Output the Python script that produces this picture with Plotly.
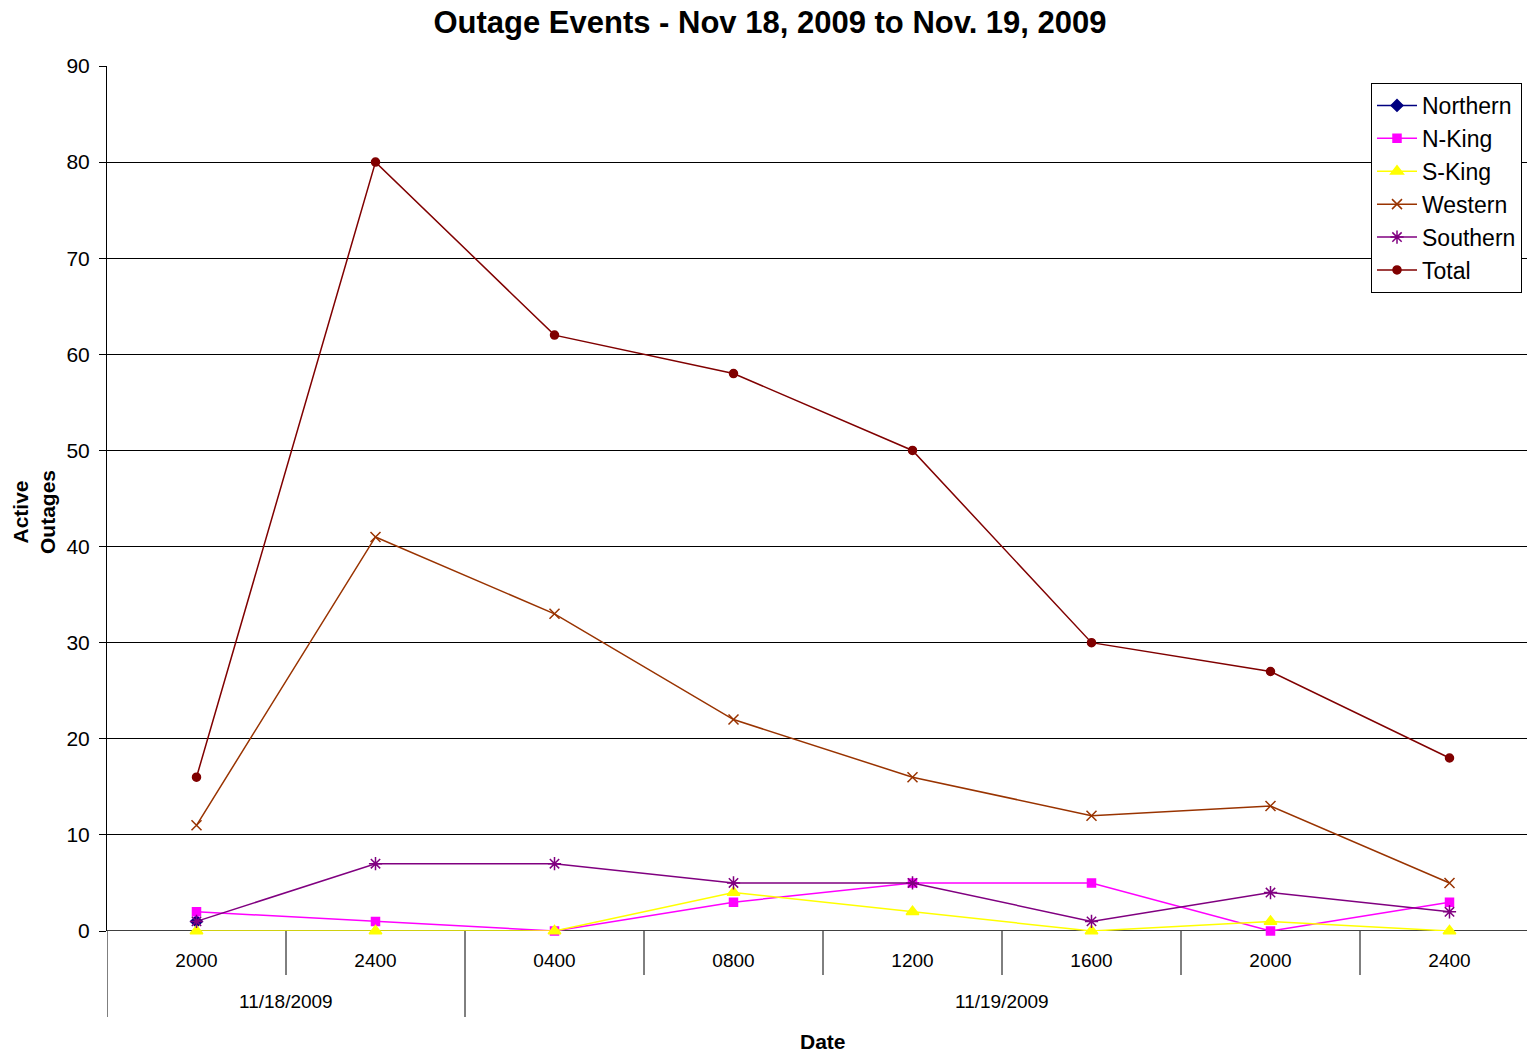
import plotly.graph_objects as go

times = ["2000", "2400", "0400", "0800", "1200", "1600", "2000", "2400"]
dates = ["11/18/2009", "11/19/2009"]
date_spans = [(0, 1), (2, 7)]

northern = [1, None, None, None, None, None, None, None]
n_king = [2, 1, 0, 3, 5, 5, 0, 3]
s_king = [0, 0, 0, 4, 2, 0, 1, 0]
western = [11, 41, 33, 22, 16, 12, 13, 5]
southern = [1, 7, 7, 5, 5, 1, 4, 2]
total = [16, 80, 62, 58, 50, 30, 27, 18]

series = [
    ("Northern", northern, "#000080", "diamond", 9),
    ("N-King", n_king, "#FF00FF", "square", 8),
    ("S-King", s_king, "#FFFF00", "triangle-up", 11),
    ("Western", western, "#993300", "x-thin-open", 10),
    ("Southern", southern, "#800080", "asterisk-open", 11),
    ("Total", total, "#800000", "circle", 8),
]

FONT = "Liberation Sans, Arial, sans-serif"
xs = list(range(len(times)))

fig = go.Figure()
for name, vals, color, sym, size in series:
    fig.add_trace(go.Scatter(
        x=xs, y=vals, name=name, mode="lines+markers", cliponaxis=False,
        line=dict(color=color, width=1.5),
        marker=dict(symbol=sym, size=size, color=color,
                    line=dict(color=color, width=1.5)),
    ))

W, H = 1527, 1055
L, T = 107, 66
BOTTOM = 931
B = H - BOTTOM
plot_w = W - L
plot_h = BOTTOM - T
cat_w = 179.0
xmax = -0.5 + plot_w / cat_w

def py(sy):
    return (BOTTOM - sy) / plot_h

def px(sx):
    return (sx - L) / plot_w

shapes = []
for b in [0.5, 2.5, 3.5, 4.5, 5.5, 6.5]:
    shapes.append(dict(type="line", xref="x", yref="paper", x0=b, x1=b,
                       y0=0, y1=py(975), line=dict(color="#000", width=1)))
for b in [-0.5, 1.5]:
    shapes.append(dict(type="line", xref="x", yref="paper", x0=b, x1=b,
                       y0=0, y1=py(1017), line=dict(color="#000", width=1)))

annotations = []
for d, (a, b) in zip(dates, date_spans):
    annotations.append(dict(text=d, xref="x", yref="paper", x=(a + b) / 2, y=py(1001),
                            showarrow=False, font=dict(family=FONT, size=19, color="#000"),
                            xanchor="center", yanchor="middle"))
annotations.append(dict(text="<b>Date</b>", xref="paper", yref="paper",
                        x=px(823), y=py(1041), showarrow=False,
                        font=dict(family=FONT, size=21, color="#000"),
                        xanchor="center", yanchor="middle"))
annotations.append(dict(text="<b>Active<br>Outages</b>", xref="paper", yref="paper",
                        x=px(34), y=py(512), showarrow=False, textangle=-90,
                        font=dict(family=FONT, size=21, color="#000"),
                        xanchor="center", yanchor="middle"))

fig.update_layout(
    width=W, height=H,
    margin=dict(l=L, r=0, t=T, b=B),
    paper_bgcolor="white", plot_bgcolor="white",
    font=dict(family=FONT, color="#000"),
    title=dict(text="<b>Outage Events - Nov 18, 2009 to Nov. 19, 2009</b>",
               x=770 / W, xanchor="center", y=1 - 22 / H, yanchor="middle",
               yref="container", font=dict(family=FONT, size=31, color="#000")),
    xaxis=dict(range=[-0.5, xmax], tickmode="array", tickvals=xs, ticktext=times,
               showgrid=False, zeroline=False, showline=False, ticks="",
               tickfont=dict(family=FONT, size=19, color="#000"),
               ticklabelstandoff=16),
    yaxis=dict(range=[0, 90], dtick=10, showgrid=True, gridcolor="#000", gridwidth=1,
               zeroline=False, showline=True, linecolor="#000", linewidth=1,
               ticks="outside", ticklen=7, tickcolor="#000",
               tickfont=dict(family=FONT, size=21, color="#000"),
               ticklabelstandoff=5),
    legend=dict(x=px(1522), xanchor="right", y=py(188), yanchor="middle",
                bgcolor="white", bordercolor="#000", borderwidth=1,
                font=dict(family=FONT, size=23, color="#000"),
                tracegroupgap=0, itemwidth=40),
    shapes=shapes, annotations=annotations, showlegend=True,
)
fig.add_shape(type="line", xref="paper", yref="y", x0=0, x1=1, y0=0, y1=0,
              line=dict(color="#000", width=1.5), layer="below")

fig.write_html("out.html", config={"displayModeBar": False},
               post_script="document.body.style.margin='0';document.body.style.overflow='hidden';")
